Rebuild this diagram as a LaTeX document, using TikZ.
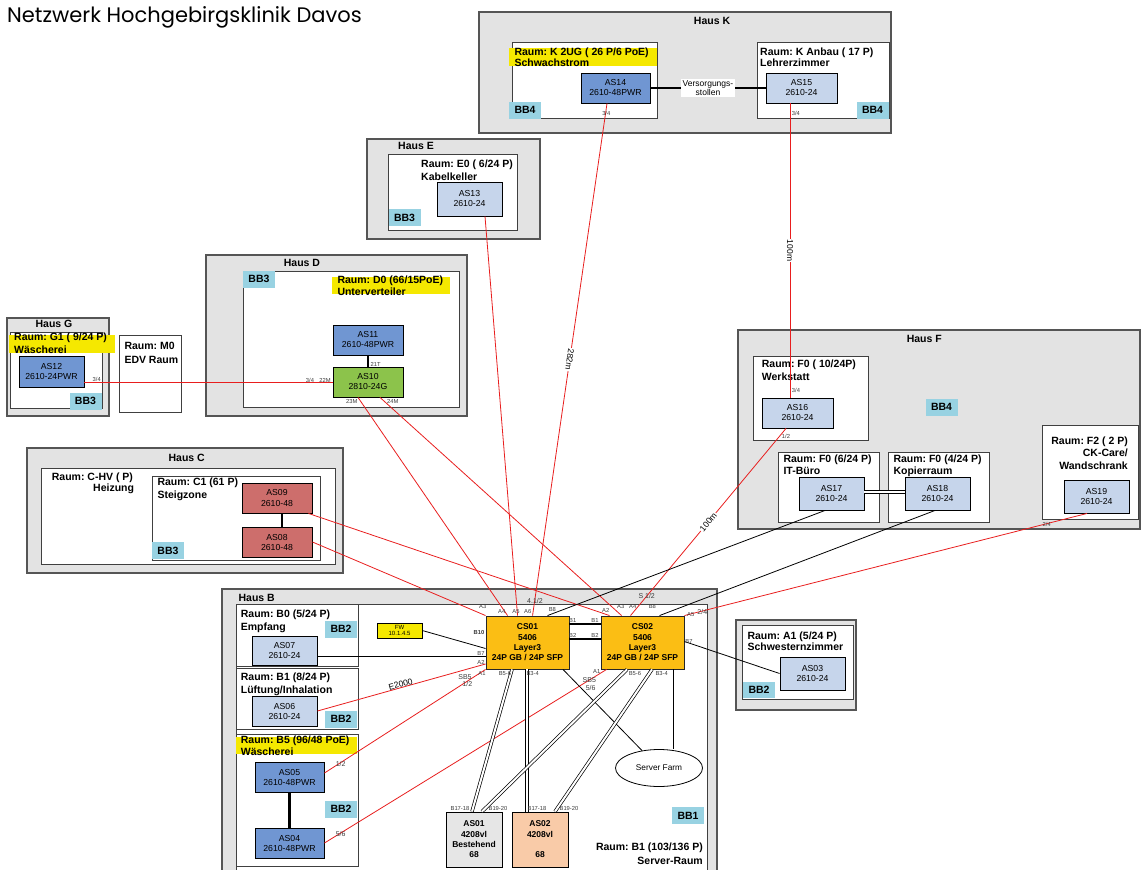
\documentclass[tikz,border=0pt]{standalone}
\usepackage{fontspec}
\setmainfont{Liberation Sans}
\newfontfamily\titlefont{Poppins}
\frenchspacing
\usetikzlibrary{shapes.geometric}
\definecolor{hausgrey}{RGB}{227,227,227}
\definecolor{hausline}{RGB}{85,85,85}
\definecolor{pwrblue}{RGB}{112,150,210}
\definecolor{lightblue}{RGB}{198,213,235}
\definecolor{poegreen}{RGB}{140,195,75}
\definecolor{oldred}{RGB}{205,110,108}
\definecolor{coreorange}{RGB}{251,190,20}
\definecolor{markeryellow}{RGB}{245,232,0}
\definecolor{bbblue}{RGB}{152,210,226}
\definecolor{oldgrey}{RGB}{230,230,230}
\definecolor{peach}{RGB}{249,203,168}
\definecolor{fibrered}{RGB}{232,30,30}
\definecolor{portgrey}{RGB}{60,60,60}
\tikzset{
  haus/.style={draw=hausline, fill=hausgrey, line width=1.3pt},
  raum/.style={draw=black!75, fill=white, line width=0.9pt},
  hauslabel/.style={inner sep=0pt, font=\bfseries\fontsize{10.5}{12}\selectfont},
  raumtext/.style={anchor=north west, inner sep=0pt, align=left, font=\bfseries\fontsize{10.5}{12.5}\selectfont},
  tightlines/.style={font=\bfseries\fontsize{10.5}{11}\selectfont},
  looselines/.style={font=\bfseries\fontsize{10.5}{13.3}\selectfont},
  sw/.style={draw=black, line width=0.9pt, minimum width=65pt, minimum height=30pt, inner sep=0pt, align=center, font=\fontsize{8.7}{10}\selectfont},
  swpwr/.style={sw, fill=pwrblue},
  swlight/.style={sw, fill=lightblue},
  swold/.style={sw, fill=oldred},
  core/.style={draw=black!85, line width=0.9pt, fill=coreorange, minimum width=83pt, minimum height=53pt, inner sep=0pt, align=center, font=\bfseries\fontsize{8.5}{10.3}\selectfont},
  chassis/.style={draw=black, line width=0.9pt, minimum width=56pt, minimum height=55pt, inner sep=0pt, align=center, font=\bfseries\fontsize{8.5}{10.3}\selectfont},
  bb/.style={fill=bbblue, minimum width=32pt, minimum height=17pt, inner sep=0pt, font=\bfseries\fontsize{10.5}{12}\selectfont},
  port/.style={inner sep=0pt, text=portgrey, font=\fontsize{5.8}{6.5}\selectfont},
  bigport/.style={port, font=\fontsize{7}{8}\selectfont},
  dist/.style={fill=white, inner sep=1pt, font=\fontsize{8.5}{9.5}\selectfont},
  fibre/.style={draw=fibrered, line width=0.8pt},
  copper/.style={draw=black, line width=0.8pt},
  stack/.style={draw=black, line width=2.8pt},
  trunk/.style={draw=black, line width=0.7pt, double=white, double distance=2pt},
}
\begin{document}
\begin{tikzpicture}[x=1pt,y=-1pt]
  \useasboundingbox (0,0) rectangle (1141,870);
  \node[anchor=base west, inner sep=0pt, font=\titlefont\fontsize{21}{23}\selectfont] (title) at (7,23) {Netzwerk Hochgebirgsklinik Davos};

  \draw[haus] (479,12) rectangle (891,133);
  \draw[haus] (367,139) rectangle (540,239);
  \draw[haus] (206,255) rectangle (467,416);
  \draw[haus] (7,318) rectangle (109,416);
  \draw[haus] (27,448) rectangle (343,573);
  \draw[haus] (738,330) rectangle (1140,529);
  \draw[haus] (222,589) rectangle (717,880);
  \draw[haus] (736,620) rectangle (856,710);

  \draw[raum] (512,42) rectangle (657,118);
  \draw[raum] (757,42) rectangle (889,118);
  \draw[raum] (388,154) rectangle (517,230);
  \draw[raum] (243,271) rectangle (459,407);
  \draw[raum] (10,332) rectangle (102,408);
  \draw[raum] (119,335) rectangle (181,412);
  \draw[raum] (41,468) rectangle (335,564);
  \draw[raum] (152,476) rectangle (320,560);
  \draw[raum] (753,356) rectangle (868,440);
  \draw[raum] (778,452) rectangle (879,522);
  \draw[raum] (888,452) rectangle (989,522);
  \draw[raum] (1042,425) rectangle (1138,519);
  \draw[raum] (236,604) rectangle (707,880);
  \draw[raum] (236,604) rectangle (358,666);
  \draw[raum] (236,668) rectangle (358,729);
  \draw[raum] (236,734) rectangle (358,866);
  \draw[raum] (742,625) rectangle (853,699);

  \fill[markeryellow] (509,48) rectangle (657,66);
  \fill[markeryellow] (332,277) rectangle (450,294);
  \fill[markeryellow] (9,335) rectangle (115,353);
  \fill[markeryellow] (236,737) rectangle (357,754);

  \node[hauslabel] (hK) at (712,20.5) {Haus K};
  \node[hauslabel] (hE) at (416,145.7) {Haus E};
  \node[hauslabel] (hD) at (302,263.3) {Haus D};
  \node[hauslabel] (hG) at (54,324.3) {Haus G};
  \node[hauslabel] (hC) at (186.7,458.3) {Haus C};
  \node[hauslabel] (hF) at (924.3,339.3) {Haus F};
  \node[hauslabel] (hB) at (256.7,597.7) {Haus B};

  \node[raumtext, tightlines] (rK1) at (514.3,47.9) {Raum: K 2UG ( 26 P/6 PoE)\\Schwachstrom};
  \node[raumtext, tightlines] (rK2) at (760,47.9) {Raum: K Anbau ( 17 P)\\Lehrerzimmer};
  \node[raumtext, looselines] (rE) at (421,159.5) {Raum: E0 ( 6/24 P)\\Kabelkeller};
  \node[raumtext] (rD) at (337.3,275.5) {Raum: D0 (66/15PoE)\\Unterverteiler};
  \node[raumtext] (rG) at (14,332.9) {Raum: G1 ( 9/24 P)\\Wäscherei};
  \node[raumtext, looselines] (rM) at (124.3,342.2) {Raum: M0\\EDV Raum};
  \node[raumtext] (rC) at (51.7,472.5) {Raum: C-HV ( P)};
  \node[raumtext] (rCh) at (93,483.9) {Heizung};
  \node[raumtext] (rC1) at (157.3,477.9) {Raum: C1 (61 P)\\Steigzone};
  \node[raumtext, looselines] (rF0) at (761.7,359.5) {Raum: F0 ( 10/24P)\\Werkstatt};
  \node[raumtext] (rF1) at (783.3,454.5) {Raum: F0 (6/24 P)\\IT-Büro};
  \node[raumtext] (rF2) at (893.3,454.5) {Raum: F0 (4/24 P)\\Kopierraum};
  \node[raumtext, anchor=north east, align=right] (rF3) at (1128,436.2) {Raum: F2 ( 2 P)\\CK-Care/\\Wandschrank};
  \node[raumtext, looselines] (rB0) at (240.7,609.5) {Raum: B0 (5/24 P)\\Empfang};
  \node[raumtext] (rB1) at (240.7,672.9) {Raum: B1 (8/24 P)\\Lüftung/Inhalation};
  \node[raumtext] (rB5) at (240.7,735.2) {Raum: B5 (96/48 PoE)\\Wäscherei};
  \node[raumtext, tightlines] (rA1) at (747.3,631.2) {Raum: A1 (5/24 P)\\Schwesternzimmer};
  \node[raumtext, anchor=north east, align=right, font=\bfseries\fontsize{10.5}{14}\selectfont] (rSrv) at (703,842.9) {Raum: B1 (103/136 P)\\Server-Raum};

  \node[bb] (bbK1) at (525,110) {BB4};
  \node[bb] (bbK2) at (872.5,110) {BB4};
  \node[bb] (bbE) at (404.5,217.5) {BB3};
  \node[bb] (bbD) at (259,279) {BB3};
  \node[bb] (bbG) at (85.5,401) {BB3};
  \node[bb] (bbC) at (168,550.5) {BB3};
  \node[bb] (bbF) at (941.5,407) {BB4};
  \node[bb] (bbB0) at (341,629) {BB2};
  \node[bb] (bbB1) at (341,719.3) {BB2};
  \node[bb] (bbB5) at (341,809) {BB2};
  \node[bb, minimum height=16pt] (bbA1) at (759,689.5) {BB2};
  \node[bb] (bbB) at (688,815.5) {BB1};

  \node[swpwr, minimum width=69pt] (as14) at (615.5,88) {AS14\\2610-48PWR};
  \node[swlight, minimum width=71pt] (as15) at (801.5,88) {AS15\\2610-24};
  \node[swlight, minimum height=34pt] (as13) at (469.5,199) {AS13\\2610-24};
  \node[swpwr, minimum width=70pt] (as11) at (368,340) {AS11\\2610-48PWR};
  \node[sw, fill=poegreen, minimum width=70pt] (as10) at (368,382) {AS10\\2810-24G};
  \node[swpwr, minimum height=31pt] (as12) at (51.5,371.5) {AS12\\2610-24PWR};
  \node[swold, minimum width=70pt] (as09) at (277,498) {AS09\\2610-48};
  \node[swold, minimum width=70pt] (as08) at (277,542) {AS08\\2610-48};
  \node[swlight, minimum width=71pt] (as16) at (797.5,413) {AS16\\2610-24};
  \node[swlight, minimum height=33pt] (as17) at (831.5,493.5) {AS17\\2610-24};
  \node[swlight, minimum height=33pt] (as18) at (937.5,493.5) {AS18\\2610-24};
  \node[swlight, minimum height=33pt] (as19) at (1096.5,496.5) {AS19\\2610-24};
  \node[swlight, minimum height=29pt] (as07) at (284.5,650.5) {AS07\\2610-24};
  \node[swlight] (as06) at (284.5,711) {AS06\\2610-24};
  \node[swpwr, minimum width=69pt] (as05) at (289.5,777) {AS05\\2610-48PWR};
  \node[swpwr, minimum width=69pt] (as04) at (289.5,843) {AS04\\2610-48PWR};
  \node[swlight, minimum height=33pt] (as03) at (812.5,673.5) {AS03\\2610-24};
  \node[core] (cs01) at (527.5,642.5) {CS01\\5406\\Layer3\\24P GB / 24P SFP};
  \node[core] (cs02) at (642.5,642.5) {CS02\\5406\\Layer3\\24P GB / 24P SFP};
  \node[chassis, fill=oldgrey] (as01) at (474,839.5) {AS01\\4208vl\\Bestehend\\68};
  \node[chassis, fill=peach] (as02) at (540,839.5) {AS02\\4208vl\\\mbox{}\\68};
  \node[draw=black, line width=0.6pt, fill=markeryellow, minimum width=45pt, minimum height=15pt, inner sep=0pt, align=center, font=\fontsize{6}{6.8}\selectfont] (fw) at (399.5,630.5) {FW\\10.1.4.5};
  \node[draw=black, line width=0.8pt, ellipse, minimum width=87pt, minimum height=37pt, font=\fontsize{8.3}{9}\selectfont] (farm) at (659,768) {Server Farm};

  \draw[fibre] ([yshift=-10.5pt]as12.east) -- (as10.west);
  \draw[fibre] ([xshift=-10pt]as10.south) -- ([xshift=22pt]cs01.north west);
  \draw[fibre] ([xshift=12pt]as10.south) -- ([xshift=21pt]cs02.north west);
  \draw[fibre] ([xshift=15.5pt]as13.south) -- ([xshift=32pt]cs01.north west);
  \draw[fibre] ([xshift=-8.5pt]as14.south) -- node[dist, midway, sloped, allow upside down] (l282) {282m} ([xshift=47pt]cs01.north west);
  \draw[fibre] ([xshift=-11.5pt]as15.south) -- node[dist, midway, sloped, allow upside down] (l100a) {100m} ([xshift=-7.5pt]as16.north);
  \draw[fibre] ([xshift=-11.5pt]as16.south) -- node[dist, midway, sloped] (l100b) {100m} ([xshift=30pt]cs02.north west);
  \draw[fibre] ([xshift=-4pt]as09.south east) -- ([xshift=9pt]cs02.north west);
  \draw[fibre] (as08.east) -- (cs01.north west);
  \draw[fibre] ([xshift=-9.5pt]as19.south) -- (cs02.north east);
  \draw[fibre] (as06.east) -- node[dist, fill=none, midway, sloped, above=-1pt] (lE2000) {E2000} ([yshift=-21.5pt]cs01.west);
  \draw[fibre] ([yshift=4pt]as05.east) -- (cs01.south west);
  \draw[fibre] (as04.east) -- ([xshift=6pt]cs02.south west);

  \draw[copper] ([xshift=-6.5pt]as17.south) -- ([xshift=62pt]cs01.north west);
  \draw[copper] ([xshift=-2.5pt]as18.south) -- ([xshift=59pt]cs02.north west);
  \draw[copper] ([yshift=-5.5pt]as07.east) -- ([yshift=-13.5pt]cs01.west);
  \draw[copper] (fw.east) -- ([yshift=-6pt]cs01.west);
  \draw[copper] (as03.west) -- ([yshift=1pt]cs02.east);
  \draw[copper] ([xshift=35.5pt]cs01.south) -- (farm);
  \draw[copper] ([xshift=30.5pt]cs02.south) -- ([xshift=14pt]farm.north);

  \draw[stack] (as14.east) -- node[fill=white, inner sep=1.5pt, align=center, font=\fontsize{8.5}{9.5}\selectfont] (stollen) {Versorgungs-\\stollen} (as15.west);
  \draw[stack] (as11.south) -- (as10.north);
  \draw[stack] ([xshift=5pt]as09.south) -- ([xshift=5pt]as08.north);
  \draw[stack] (as05.south) -- (as04.north);
  \draw[stack] ([yshift=18.5pt]cs01.east) -- ([yshift=18.5pt]cs02.west);
  \draw[stack] ([yshift=3.5pt]cs01.east) -- ([yshift=3.5pt]cs02.west);
  \draw[trunk] ([yshift=1.5pt]as17.east) -- ([yshift=1.5pt]as18.west);
  \draw[trunk] ([xshift=-15.5pt]cs01.south) -- ([xshift=-2pt]as01.north);
  \draw[trunk] ([xshift=-0.5pt]cs01.south) -- ([xshift=-13pt]as02.north);
  \draw[trunk] ([xshift=-15.5pt]cs02.south) -- ([xshift=8pt]as01.north);
  \draw[trunk] ([xshift=9.5pt]cs02.south) -- ([xshift=15pt]as02.north);

  \node[port] (pK14) at (606.3,113.3) {3/4};
  \node[port] (pK15) at (795.8,113.3) {3/4};
  \node[port] (p21T) at (375.7,364) {21T};
  \node[port] (pD34) at (310,380.7) {3/4};
  \node[port] (pD22) at (325,380.7) {22M};
  \node[port] (pD23) at (351.7,401.7) {23M};
  \node[port] (pD24) at (392.7,401.7) {24M};
  \node[port] (pG34) at (96.7,379.3) {3/4};
  \node[port] (pF34) at (796,390.7) {3/4};
  \node[port] (pF12) at (786,436) {1/2};
  \node[port] (pF24) at (1046.7,524.3) {2/4};
  \node[port, font=\bfseries\fontsize{5.8}{6.5}\selectfont] (pB10) at (479,632) {B10};
  \node[port] (pB7a) at (481,653) {B7};
  \node[port] (pA2a) at (481,662) {A2};
  \node[port] (pA1a) at (482,673.3) {A1};
  \node[bigport] (pSB5a) at (465,676.7) {SB5};
  \node[bigport] (p12a) at (467.3,684.3) {1/2};
  \node[port] (pA3a) at (482.7,606.7) {A3};
  \node[port] (pA4a) at (501.7,611.7) {A4};
  \node[port] (pA5a) at (516,611.7) {A5};
  \node[port] (pA6a) at (527.7,611.7) {A6};
  \node[port] (pB8a) at (552.3,609) {B8};
  \node[bigport] (p41) at (535,600.7) {4.1/2};
  \node[bigport] (pS12) at (646.7,595.7) {S 1/2};
  \node[port] (pA2b) at (605.7,610) {A2};
  \node[port] (pA3b) at (620.7,606.7) {A3};
  \node[port] (pA4b) at (632.7,606.7) {A4};
  \node[port] (pB8b) at (652.3,606.7) {B8};
  \node[port] (pA5b) at (690.7,615) {A5};
  \node[bigport] (p24b) at (702.3,612.3) {2/4};
  \node[port] (pB1a) at (572.7,620) {B1};
  \node[port] (pB1b) at (595,620) {B1};
  \node[port] (pB2a) at (572.7,635) {B2};
  \node[port] (pB2b) at (595,635) {B2};
  \node[port] (pB7b) at (689,641) {B7};
  \node[port] (pB56a) at (505,673.3) {B5-6};
  \node[port] (pB34a) at (532.7,673.3) {B3-4};
  \node[port] (pA1b) at (596.7,671.7) {A1};
  \node[bigport] (pSB5b) at (589.3,680) {SB5};
  \node[bigport] (p56b) at (590.7,687.7) {5/6};
  \node[port] (pB56b) at (635,673.3) {B5-6};
  \node[port] (pB34b) at (661.7,673.3) {B3-4};
  \node[bigport] (p12B5) at (340.7,764.3) {1/2};
  \node[bigport] (p56B5) at (340.7,834.3) {5/6};
  \node[port] (pB1718a) at (460,808) {B17-18};
  \node[port] (pB1920a) at (498,808) {B19-20};
  \node[port] (pB1718b) at (537,808) {B17-18};
  \node[port] (pB1920b) at (569,808) {B19-20};
\end{tikzpicture}
\end{document}
